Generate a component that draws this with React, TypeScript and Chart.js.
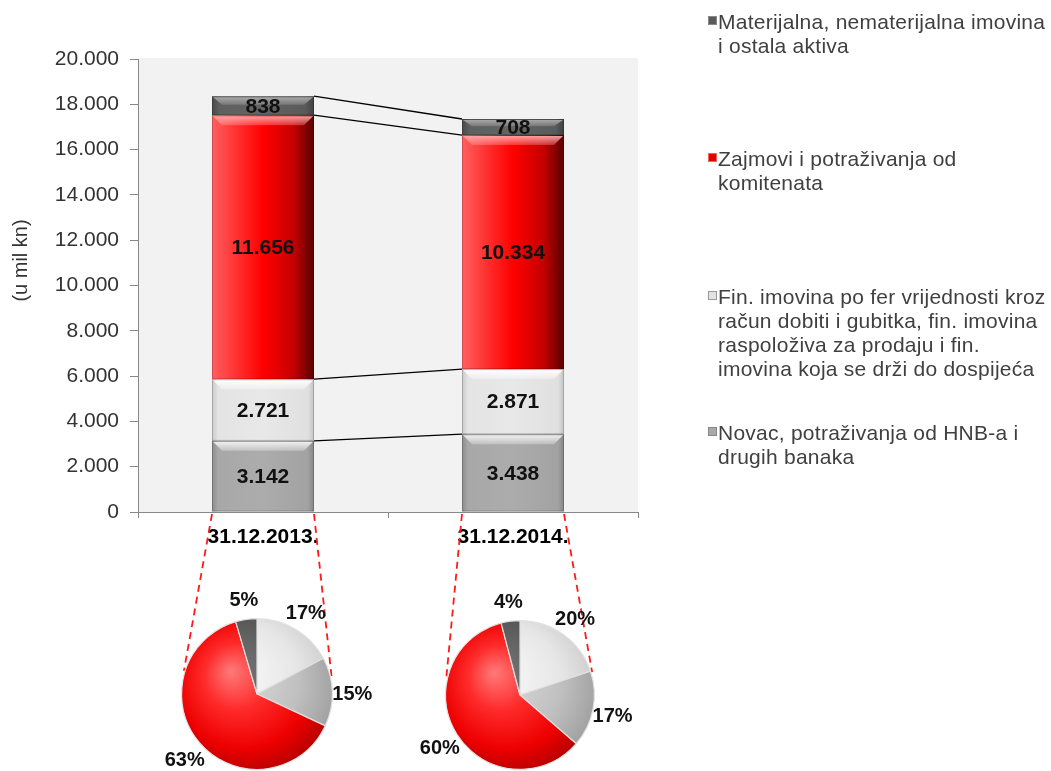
import React, { useEffect, useRef } from 'react';
import { Chart, registerables } from 'chart.js';

Chart.register(...registerables);

// ---------- data ----------
const categories = ['31.12.2013.', '31.12.2014.'];
const novac = [3142, 3438];
const finImovina = [2721, 2871];
const zajmovi = [11656, 10334];
const materijalna = [838, 708];
const seriesNames = [
  'Novac, potraživanja od HNB-a i drugih banaka',
  'Fin. imovina po fer vrijednosti kroz račun dobiti i gubitka, fin. imovina raspoloživa za prodaju i fin. imovina koja se drži do dospijeća',
  'Zajmovi i potraživanja od komitenata',
  'Materijalna, nematerijalna imovina i ostala aktiva',
];
const legendMaterijalna = ['Materijalna, nematerijalna imovina', 'i ostala aktiva'];
const legendZajmovi = ['Zajmovi i potraživanja od', 'komitenata'];
const legendFin = [
  'Fin. imovina po fer vrijednosti kroz',
  'račun dobiti i gubitka, fin. imovina',
  'raspoloživa za prodaju i fin.',
  'imovina koja se drži do dospijeća',
];
const legendNovac = ['Novac, potraživanja od HNB-a i', 'drugih banaka'];
const yTitle = '(u mil kn)';
const yMin = 0;
const yMax = 20000;
const yStep = 2000;

// ---------- layout / style ----------
const W = 1051;
const H = 771;
const FONT = '"Liberation Sans", Arial, sans-serif';
const BAR_PCT = 0.408;
const PIES = [
  { cx: 257, cy: 694, r: 76 },
  { cx: 520, cy: 695, r: 75 },
];
const PIE_W = 300;
const PIE_H = 240;
const PIE_TOP = 120;

const fmt = (v: number) => String(v).replace(/\B(?=(\d{3})+(?!\d))/g, '.');

const barStops: [number, string][][] = [
  [[0, '#8c8c8c'], [0.06, '#a8a8a8'], [0.5, '#acacac'], [0.94, '#a2a2a2'], [1, '#858585']],
  [[0, '#c9c9c9'], [0.06, '#e4e4e4'], [0.5, '#e8e8e8'], [0.94, '#e0e0e0'], [1, '#c4c4c4']],
  [[0, '#ff6060'], [0.2, '#ff3838'], [0.5, '#ff0000'], [0.8, '#c40000'], [1, '#580000']],
  [[0, '#4a4a4a'], [0.08, '#606060'], [0.5, '#636363'], [0.92, '#5a5a5a'], [1, '#404040']],
];
const barFlat = ['#a8a8a8', '#e4e4e4', '#ff0000', '#606060'];
const bevelColors = [
  'rgba(245,245,245,',
  'rgba(255,255,255,',
  'rgba(255,170,170,',
  'rgba(175,175,175,',
];

const pieStops: [number, string][][] = [
  [[0, '#fbfbfb'], [0.6, '#e6e6e6'], [1, '#c6c6c6']],
  [[0, '#dedede'], [0.6, '#c0c0c0'], [1, '#9a9a9a']],
  [[0, '#ff7a7a'], [0.35, '#ff2a2a'], [0.7, '#ee0000'], [1, '#a80000']],
  [[0, '#777777'], [0.6, '#5a5a5a'], [1, '#444444']],
];

function linGrad(ctx: CanvasRenderingContext2D, x0: number, x1: number, stops: [number, string][]) {
  const g = ctx.createLinearGradient(x0, 0, x1, 0);
  stops.forEach(([o, c]) => g.addColorStop(o, c));
  return g;
}

const barPlugin = {
  id: 'barDecor',
  beforeDraw(chart: any) {
    const { ctx, chartArea: a } = chart;
    ctx.save();
    ctx.fillStyle = '#f2f2f2';
    ctx.fillRect(a.left, a.top - 1, a.right - a.left, a.bottom - a.top + 1);
    ctx.restore();
  },
  afterDatasetsDraw(chart: any) {
    const { ctx } = chart;
    const ys = chart.scales.y;
    const nSeries = chart.data.datasets.length;
    ctx.save();
    // bevel highlights
    for (let si = 0; si < nSeries; si++) {
      const meta = chart.getDatasetMeta(si);
      meta.data.forEach((el: any) => {
        const p = el.getProps(['x', 'y', 'base', 'width'], true);
        const l = p.x - p.width / 2;
        const r = p.x + p.width / 2;
        const t = Math.min(p.y, p.base);
        const hgt = Math.abs(p.base - p.y);
        const bh = Math.min(10, hgt * 0.45);
        const g = ctx.createLinearGradient(0, t, 0, t + bh);
        g.addColorStop(0, bevelColors[si] + '1)');
        g.addColorStop(1, bevelColors[si] + '0.3)');
        ctx.fillStyle = g;
        ctx.beginPath();
        ctx.moveTo(l + 1, t + 1);
        ctx.lineTo(r - 1, t + 1);
        ctx.lineTo(r - 10, t + bh);
        ctx.lineTo(l + 10, t + bh);
        ctx.closePath();
        ctx.fill();
        ctx.strokeStyle = 'rgba(0,0,0,0.18)';
        ctx.lineWidth = 1;
        ctx.strokeRect(l + 0.5, t + 0.5, p.width - 1, hgt - 1);
      });
    }
    // connector lines between stacks
    ctx.strokeStyle = '#000';
    ctx.lineWidth = 1.3;
    for (let si = 0; si < nSeries; si++) {
      const m = chart.getDatasetMeta(si);
      const e0 = m.data[0].getProps(['x', 'width'], true);
      const e1 = m.data[1].getProps(['x', 'width'], true);
      let c0 = 0;
      let c1 = 0;
      for (let k = 0; k <= si; k++) {
        c0 += chart.data.datasets[k].data[0];
        c1 += chart.data.datasets[k].data[1];
      }
      ctx.beginPath();
      ctx.moveTo(e0.x + e0.width / 2, ys.getPixelForValue(c0));
      ctx.lineTo(e1.x - e1.width / 2, ys.getPixelForValue(c1));
      ctx.stroke();
    }
    // value labels
    ctx.fillStyle = '#111';
    ctx.font = `bold 21px ${FONT}`;
    ctx.textAlign = 'center';
    ctx.textBaseline = 'middle';
    for (let si = 0; si < nSeries; si++) {
      const meta = chart.getDatasetMeta(si);
      meta.data.forEach((el: any, i: number) => {
        const p = el.getProps(['x', 'y', 'base'], true);
        ctx.fillText(fmt(chart.data.datasets[si].data[i]), p.x, (p.y + p.base) / 2 + 1);
      });
    }
    ctx.restore();
  },
  afterDraw(chart: any) {
    const { ctx, chartArea: a } = chart;
    ctx.save();
    // y title
    ctx.translate(21, (a.top + a.bottom) / 2 - 25);
    ctx.rotate(-Math.PI / 2);
    ctx.fillStyle = '#333';
    ctx.font = `20px ${FONT}`;
    ctx.textAlign = 'center';
    ctx.textBaseline = 'middle';
    ctx.fillText(yTitle, 0, 0);
    ctx.restore();
    // dashed red lines from bars to pies
    ctx.save();
    ctx.strokeStyle = '#ff1a1a';
    ctx.lineWidth = 1.8;
    ctx.setLineDash([7, 5]);
    const m = chart.getDatasetMeta(0);
    const yb = chart.scales.y.getPixelForValue(0);
    m.data.forEach((el: any, i: number) => {
      const p = el.getProps(['x', 'width'], true);
      const pie = PIES[i];
      [-1, 1].forEach((side) => {
        const px = p.x + (side * p.width) / 2;
        const py = yb;
        const dx = pie.cx - px;
        const dy = pie.cy - py;
        const d = Math.hypot(dx, dy);
        const th = Math.atan2(dy, dx);
        const al = Math.asin(pie.r / d);
        const L = Math.sqrt(d * d - pie.r * pie.r) - 10;
        const ang = side < 0 ? th + al : th - al;
        ctx.beginPath();
        ctx.moveTo(px, py + 2);
        ctx.lineTo(px + L * Math.cos(ang), py + L * Math.sin(ang));
        ctx.stroke();
      });
    });
    ctx.restore();
  },
};

const pieLabelPlugin = {
  id: 'pieLabels',
  afterDatasetsDraw(chart: any) {
    const { ctx } = chart;
    const meta = chart.getDatasetMeta(0);
    const vals: number[] = chart.data.datasets[0].data;
    const total = vals.reduce((s, v) => s + v, 0);
    ctx.save();
    ctx.font = `bold 20px ${FONT}`;
    ctx.fillStyle = '#111';
    ctx.textAlign = 'center';
    ctx.textBaseline = 'middle';
    meta.data.forEach((arc: any, i: number) => {
      const p = arc.getProps(['x', 'y', 'startAngle', 'endAngle', 'outerRadius'], true);
      const mid = (p.startAngle + p.endAngle) / 2;
      const txt = Math.round((vals[i] / total) * 100) + '%';
      const w = ctx.measureText(txt).width;
      const cs = Math.cos(mid);
      const sn = Math.sin(mid);
      const ax = p.x + cs * (p.outerRadius + 6);
      const ay = p.y + sn * (p.outerRadius + 6);
      ctx.fillText(txt, ax + cs * (w * 0.35), ay + sn * 16 + 3);
    });
    ctx.restore();
  },
};

export default function App() {
  const barRef = useRef<HTMLCanvasElement>(null);
  const pie1Ref = useRef<HTMLCanvasElement>(null);
  const pie2Ref = useRef<HTMLCanvasElement>(null);

  useEffect(() => {
    Chart.defaults.font.family = FONT;
    const charts: Chart[] = [];
    const seriesData = [novac, finImovina, zajmovi, materijalna];

    const bar = new Chart(barRef.current as HTMLCanvasElement, {
      type: 'bar',
      data: {
        labels: categories,
        datasets: seriesData.map((d, si) => ({
          label: seriesNames[si],
          data: d,
          backgroundColor: (c: any) => {
            const ch = c.chart;
            if (!ch.chartArea || c.type !== 'data') return barFlat[si];
            const xs = ch.scales.x;
            const cx = xs.getPixelForValue(c.dataIndex);
            const w = (xs.width / categories.length) * BAR_PCT;
            return linGrad(ch.ctx, cx - w / 2, cx + w / 2, barStops[si]);
          },
          borderWidth: 0,
          categoryPercentage: 1,
          barPercentage: BAR_PCT,
          stack: 's',
        })),
      },
      options: {
        responsive: false,
        animation: false,
        events: [],
        layout: { padding: { left: 0, right: 413, top: 59, bottom: 219 } },
        plugins: { legend: { display: false }, tooltip: { enabled: false } },
        scales: {
          x: {
            stacked: true,
            offset: true,
            grid: { display: true, drawOnChartArea: false, drawTicks: true, tickLength: 6, color: '#888', offset: true },
            border: { display: true, color: '#888', width: 1 },
            ticks: { font: { size: 21, weight: 'bold', family: FONT }, color: '#000', padding: 7, maxRotation: 0 },
            afterFit: (s: any) => {
              s.height = 40;
            },
          },
          y: {
            stacked: true,
            min: yMin,
            max: yMax,
            grid: { display: true, drawOnChartArea: false, drawTicks: true, tickLength: 8, color: '#888' },
            border: { display: true, color: '#888', width: 1 },
            ticks: { stepSize: yStep, callback: (v: any) => fmt(Number(v)), font: { size: 21, family: FONT }, color: '#333', padding: 11 },
            afterFit: (s: any) => {
              s.width = 138;
            },
          },
        },
      } as any,
      plugins: [barPlugin],
    });
    charts.push(bar);

    [pie1Ref, pie2Ref].forEach((ref, i) => {
      const pie = PIES[i];
      const padL = PIE_W / 2 - pie.r;
      const padT = PIE_TOP - pie.r;
      const ch = new Chart(ref.current as HTMLCanvasElement, {
        type: 'pie',
        data: {
          labels: seriesNames,
          datasets: [
            {
              data: [novac[i], finImovina[i], zajmovi[i], materijalna[i]],
              backgroundColor: (c: any) => {
                const chh = c.chart;
                const a = chh.chartArea;
                if (!a) return barFlat[c.dataIndex];
                const cx = (a.left + a.right) / 2;
                const cy = (a.top + a.bottom) / 2;
                const r = Math.min(a.right - a.left, a.bottom - a.top) / 2;
                const g = chh.ctx.createRadialGradient(cx - 0.35 * r, cy - 0.3 * r, 0, cx - 0.1 * r, cy - 0.1 * r, 1.25 * r);
                pieStops[c.dataIndex].forEach(([o, col]) => g.addColorStop(o, col));
                return g;
              },
              borderColor: '#e2e2e2',
              borderWidth: 1.2,
              hoverOffset: 0,
            },
          ],
        },
        options: {
          responsive: false,
          animation: false,
          events: [],
          layout: { padding: { left: padL, right: padL, top: padT, bottom: PIE_H - PIE_TOP - pie.r } },
          plugins: { legend: { display: false }, tooltip: { enabled: false } },
        } as any,
        plugins: [pieLabelPlugin],
      });
      charts.push(ch);
    });

    return () => charts.forEach((c) => c.destroy());
  }, []);

  const legendBlocks = [
    { lines: legendMaterijalna, y: 22, color: '#5a5a5a', border: '#8a8a8a' },
    { lines: legendZajmovi, y: 159, color: '#e00000', border: '#ff6060' },
    { lines: legendFin, y: 297, color: '#e2e2e2', border: '#9a9a9a' },
    { lines: legendNovac, y: 433, color: '#a8a8a8', border: '#888' },
  ];

  return (
    <div
      style={{
        position: 'absolute',
        left: 0,
        top: 0,
        width: W,
        height: H,
        overflow: 'hidden',
        background: '#fff',
        fontFamily: FONT,
      }}
    >
      <canvas ref={barRef} width={W} height={H} style={{ position: 'absolute', left: 0, top: 0, width: W, height: H }} />
      {PIES.map((p, i) => (
        <canvas
          key={i}
          ref={i === 0 ? pie1Ref : pie2Ref}
          width={PIE_W}
          height={PIE_H}
          style={{ position: 'absolute', left: p.cx - PIE_W / 2, top: p.cy - PIE_TOP, width: PIE_W, height: PIE_H }}
        />
      ))}
      {legendBlocks.map((b, i) => (
        <div key={i}>
          <div
            style={{
              position: 'absolute',
              left: 708,
              top: b.y - 6,
              width: 7,
              height: 7,
              background: b.color,
              border: `1px solid ${b.border}`,
            }}
          />
          <div
            style={{
              position: 'absolute',
              left: 718,
              top: b.y - 12,
              fontSize: 21,
              lineHeight: '24px',
              color: '#404040',
              letterSpacing: '0.25px',
              whiteSpace: 'nowrap',
            }}
          >
            {b.lines.map((l, k) => (
              <div key={k}>{l}</div>
            ))}
          </div>
        </div>
      ))}
    </div>
  );
}
